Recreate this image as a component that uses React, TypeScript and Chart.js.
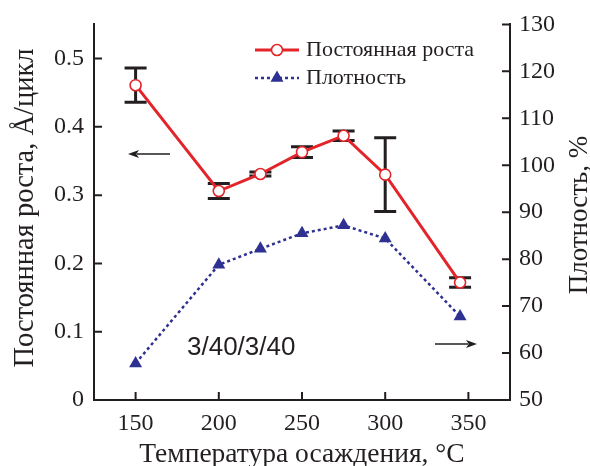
import React, { useEffect, useRef } from "react";
import { Chart, registerables } from "chart.js";

Chart.register(...registerables);

// Deposition temperature, °C
const temperatures = [150, 200, 225, 250, 275, 300, 345];
// Growth per cycle, Å/cycle (left axis) and its spread
const growthRate = [0.461, 0.306, 0.331, 0.363, 0.387, 0.33, 0.172];
const growthError = [0.025, 0.011, 0.003, 0.008, 0.007, 0.054, 0.007];
// Film density, % (right axis)
const density = [57.8, 78.8, 82.2, 85.5, 87.2, 84.4, 67.8];

// Tick values of the three axes
const xTicks = [150, 200, 250, 300, 350];
const yTicks = [0, 0.1, 0.2, 0.3, 0.4, 0.5];
const y2Ticks = [50, 60, 70, 80, 90, 100, 110, 120, 130];

const seriesNames = ["Постоянная роста", "Плотность"];
const xTitle = "Температура осаждения, °C";
const yTitle = "Постоянная роста, Å/цикл";
const y2Title = "Плотность, %";
const recipeLabel = "3/40/3/40";

const RED = "#e3242b";
const BLUE = "#2e3192";
const INK = "#231f20";
const SERIF = "'Liberation Serif', 'Times New Roman', serif";
const SANS = "'Liberation Sans', Arial, sans-serif";

function arrow(ctx: CanvasRenderingContext2D, x0: number, x1: number, y: number) {
  // shaft from x0, filled head with its tip at x1
  const dir = Math.sign(x1 - x0);
  const head = 11;
  ctx.beginPath();
  ctx.moveTo(x0, y);
  ctx.lineTo(x1 - dir * head * 0.8, y);
  ctx.lineWidth = 1.5;
  ctx.strokeStyle = INK;
  ctx.stroke();
  ctx.beginPath();
  ctx.moveTo(x1, y);
  ctx.lineTo(x1 - dir * head, y - 4);
  ctx.lineTo(x1 - dir * head * 0.75, y);
  ctx.lineTo(x1 - dir * head, y + 4);
  ctx.closePath();
  ctx.fillStyle = INK;
  ctx.fill();
}

const errorBars = {
  id: "errorBars",
  beforeDatasetsDraw(chart: any) {
    const { ctx } = chart;
    const xs = chart.scales.x;
    const ys = chart.scales.y;
    ctx.save();
    ctx.strokeStyle = INK;
    ctx.lineWidth = 3;
    temperatures.forEach((t, i) => {
      const px = xs.getPixelForValue(t);
      const top = ys.getPixelForValue(growthRate[i] + growthError[i]);
      const bot = ys.getPixelForValue(growthRate[i] - growthError[i]);
      const cap = 11;
      ctx.beginPath();
      ctx.moveTo(px, top);
      ctx.lineTo(px, bot);
      ctx.moveTo(px - cap, top);
      ctx.lineTo(px + cap, top);
      ctx.moveTo(px - cap, bot);
      ctx.lineTo(px + cap, bot);
      ctx.stroke();
    });
    ctx.restore();
  },
};

const decorations = {
  id: "decorations",
  afterDraw(chart: any) {
    const { ctx, chartArea } = chart;
    const { left, right, bottom } = chartArea;
    const xs = chart.scales.x;
    const ys = chart.scales.y;
    const y2 = chart.scales.y2;
    ctx.save();

    // inward tick marks
    ctx.strokeStyle = INK;
    ctx.lineWidth = 2;
    ctx.beginPath();
    xs.ticks.forEach((t: any) => {
      const p = xs.getPixelForValue(t.value);
      ctx.moveTo(p, bottom);
      ctx.lineTo(p, bottom - 8);
    });
    ys.ticks.forEach((t: any) => {
      const p = ys.getPixelForValue(t.value);
      ctx.moveTo(left, p);
      ctx.lineTo(left + 8, p);
    });
    y2.ticks.forEach((t: any) => {
      const p = y2.getPixelForValue(t.value);
      ctx.moveTo(right, p);
      ctx.lineTo(right - 8, p);
    });
    ctx.stroke();

    // axis titles
    ctx.fillStyle = INK;
    ctx.textAlign = "center";
    ctx.textBaseline = "alphabetic";
    ctx.font = `27.5px ${SERIF}`;
    ctx.fillText(xTitle, 302, 462);

    ctx.save();
    ctx.font = `28.5px ${SERIF}`;
    ctx.translate(33, 208);
    ctx.rotate(-Math.PI / 2);
    ctx.fillText(yTitle, 0, 0);
    ctx.restore();

    ctx.save();
    ctx.font = `27px ${SERIF}`;
    ctx.translate(587, 215);
    ctx.rotate(-Math.PI / 2);
    ctx.fillText(y2Title, 0, 0);
    ctx.restore();

    // legend
    const lx0 = 255;
    const lx1 = 299;
    const lmx = 277;
    ctx.lineWidth = 3;
    ctx.strokeStyle = RED;
    ctx.beginPath();
    ctx.moveTo(lx0, 50);
    ctx.lineTo(lx1, 50);
    ctx.stroke();
    ctx.beginPath();
    ctx.arc(lmx, 50, 5.5, 0, Math.PI * 2);
    ctx.fillStyle = "#ffffff";
    ctx.fill();
    ctx.lineWidth = 1.6;
    ctx.stroke();

    ctx.strokeStyle = BLUE;
    ctx.lineWidth = 2.5;
    ctx.setLineDash([3, 3]);
    ctx.beginPath();
    ctx.moveTo(lx0, 78);
    ctx.lineTo(lx1, 78);
    ctx.stroke();
    ctx.setLineDash([]);
    ctx.beginPath();
    const r = 7.5;
    for (let k = 0; k < 3; k++) {
      const a = (k * 2 * Math.PI) / 3;
      const px = lmx + Math.sin(a) * r;
      const py = 78 - Math.cos(a) * r;
      if (k === 0) ctx.moveTo(px, py);
      else ctx.lineTo(px, py);
    }
    ctx.closePath();
    ctx.fillStyle = BLUE;
    ctx.fill();

    ctx.fillStyle = INK;
    ctx.font = `22px ${SERIF}`;
    ctx.textAlign = "left";
    ctx.textBaseline = "middle";
    ctx.fillText(seriesNames[0], 306, 50);
    ctx.fillText(seriesNames[1], 306, 78);

    // axis pointers
    arrow(ctx, 170, 128, 154);
    arrow(ctx, 435, 477, 344);

    // recipe label
    ctx.font = `26px ${SANS}`;
    ctx.textAlign = "left";
    ctx.textBaseline = "middle";
    ctx.fillStyle = INK;
    ctx.fillText(recipeLabel, 187, 348);

    ctx.restore();
  },
};

export default function App() {
  const canvasRef = useRef<HTMLCanvasElement | null>(null);

  useEffect(() => {
    document.body.style.margin = "0";
    const canvas = canvasRef.current;
    if (!canvas) return;

    const tickFont = { family: SERIF, size: 24 };
    const axisCommon = {
      grid: { display: true, drawOnChartArea: false, drawTicks: false },
      border: { display: true, color: INK, width: 2 },
    };
    const fixedTicks = (values: number[]) => (s: any) => {
      s.ticks = values.map((v) => ({ value: v }));
    };

    const chart = new Chart(canvas, {
      type: "line",
      data: {
        datasets: [
          {
            label: seriesNames[0],
            data: temperatures.map((t, i) => ({ x: t, y: growthRate[i] })),
            yAxisID: "y",
            borderColor: RED,
            borderWidth: 3,
            pointStyle: "circle",
            pointRadius: 5.5,
            pointBorderWidth: 1.6,
            pointBackgroundColor: "#ffffff",
            pointBorderColor: RED,
            tension: 0,
          },
          {
            label: seriesNames[1],
            data: temperatures.map((t, i) => ({ x: t, y: density[i] })),
            yAxisID: "y2",
            borderColor: BLUE,
            borderWidth: 2.5,
            borderDash: [3, 3],
            pointStyle: "triangle",
            pointRadius: 7.5,
            pointBorderWidth: 0,
            pointBackgroundColor: BLUE,
            pointBorderColor: BLUE,
            tension: 0,
          },
        ],
      },
      options: {
        responsive: false,
        animation: false,
        layout: { padding: { top: 22, left: 0, right: 0, bottom: 0 } },
        plugins: {
          legend: { display: false },
          tooltip: { enabled: false },
        },
        scales: {
          x: {
            type: "linear",
            position: "bottom",
            min: 125,
            max: 375,
            ...axisCommon,
            afterBuildTicks: fixedTicks(xTicks),
            ticks: {
              font: tickFont,
              color: INK,
              padding: 9,
              maxRotation: 0,
              autoSkip: false,
            },
            afterFit: (s: any) => {
              s.height = 66;
            },
          },
          y: {
            type: "linear",
            position: "left",
            min: 0,
            max: 0.55,
            ...axisCommon,
            afterBuildTicks: fixedTicks(yTicks),
            ticks: {
              font: tickFont,
              color: INK,
              padding: 10,
              autoSkip: false,
              callback: (v: any) => (Math.round(v * 10) / 10).toString(),
            },
            afterFit: (s: any) => {
              s.width = 94;
            },
          },
          y2: {
            type: "linear",
            position: "right",
            min: 50,
            max: 130,
            ...axisCommon,
            afterBuildTicks: fixedTicks(y2Ticks),
            ticks: {
              font: tickFont,
              color: INK,
              padding: 9,
              autoSkip: false,
            },
            afterFit: (s: any) => {
              s.width = 80;
            },
          },
        },
      },
      plugins: [errorBars, decorations],
    });

    return () => chart.destroy();
  }, []);

  return (
    <div style={{ width: 590, height: 466 }}>
      <canvas ref={canvasRef} width={590} height={466} />
    </div>
  );
}
